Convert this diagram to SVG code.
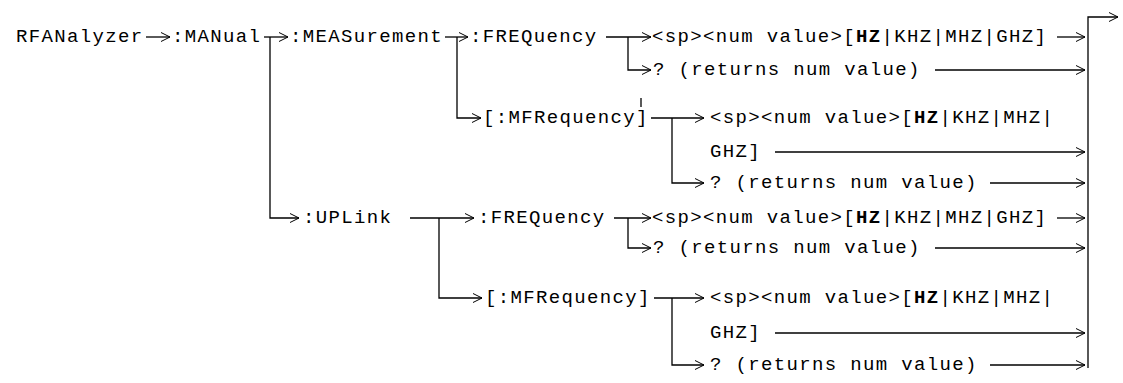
<svg xmlns="http://www.w3.org/2000/svg" width="1123" height="383" viewBox="0 0 1123 383">
<defs>
<marker id="ah" markerWidth="12" markerHeight="12" refX="10" refY="6" orient="auto" markerUnits="userSpaceOnUse">
<path d="M1,1.5 L10,6 L1,10.5" fill="none" stroke="#000" stroke-width="1"/>
</marker>
</defs>
<style>
text{font-family:"Liberation Mono","Courier New",monospace;font-size:19px;letter-spacing:1.35px;fill:#000}
.b{font-weight:bold}
.c line,.c polyline{stroke:#000;stroke-width:1.3;fill:none}
.a{marker-end:url(#ah)}
</style>
<rect width="1123" height="383" fill="#fff"/>
<g id="n-rfa"><text x="16" y="42">RFANalyzer</text></g>
<g id="n-manual"><text x="172" y="42">:MANual</text></g>
<g id="n-meas"><text x="290" y="42">:MEASurement</text></g>
<g id="n-freq1"><text x="470" y="42">:FREQuency</text></g>
<g id="n-val1"><text x="652" y="42">&lt;sp&gt;&lt;num value&gt;[<tspan class="b">HZ</tspan>|KHZ|MHZ|GHZ]</text></g>
<g id="n-q1"><text x="653" y="75">? (returns num value)</text></g>
<g id="n-mfreq1"><text x="483" y="123">[:MFRequency]</text></g>
<g id="n-val2"><text x="710" y="123">&lt;sp&gt;&lt;num value&gt;[<tspan class="b">HZ</tspan>|KHZ|MHZ|</text><text x="710" y="157">GHZ]</text></g>
<g id="n-q2"><text x="710" y="188">? (returns num value)</text></g>
<g id="n-uplink"><text x="303" y="223">:UPLink</text></g>
<g id="n-freq2"><text x="478" y="223">:FREQuency</text></g>
<g id="n-val3"><text x="652" y="223">&lt;sp&gt;&lt;num value&gt;[<tspan class="b">HZ</tspan>|KHZ|MHZ|GHZ]</text></g>
<g id="n-q3"><text x="653" y="253">? (returns num value)</text></g>
<g id="n-mfreq2"><text x="485" y="303">[:MFRequency]</text></g>
<g id="n-val4"><text x="710" y="303">&lt;sp&gt;&lt;num value&gt;[<tspan class="b">HZ</tspan>|KHZ|MHZ|</text><text x="710" y="338">GHZ]</text></g>
<g id="n-q4"><text x="710" y="370">? (returns num value)</text></g>
<g id="connectors" class="c">
<line class="a" x1="146" y1="37" x2="170" y2="37"/>
<line class="a" x1="264" y1="37" x2="288" y2="37"/>
<polyline class="a" points="270,37 270,218 299,218"/>
<line class="a" x1="445" y1="37" x2="468" y2="37"/>
<polyline class="a" points="457,37 457,118 481,118"/>
<line class="a" x1="606" y1="37" x2="651" y2="37"/>
<polyline class="a" points="628,37 628,70 651,70"/>
<line class="a" x1="1057" y1="37" x2="1085" y2="37"/>
<line class="a" x1="935" y1="70" x2="1085" y2="70"/>
<line x1="641" y1="98" x2="641" y2="107"/>
<line class="a" x1="651" y1="118" x2="704" y2="118"/>
<polyline class="a" points="672,118 672,183 704,183"/>
<line class="a" x1="775" y1="152" x2="1085" y2="152"/>
<line class="a" x1="990" y1="183" x2="1085" y2="183"/>
<line class="a" x1="410" y1="218" x2="474" y2="218"/>
<polyline class="a" points="439,218 439,298 482,298"/>
<line class="a" x1="614" y1="218" x2="651" y2="218"/>
<polyline class="a" points="628,218 628,248 651,248"/>
<line class="a" x1="1057" y1="218" x2="1085" y2="218"/>
<line class="a" x1="935" y1="248" x2="1085" y2="248"/>
<line class="a" x1="654" y1="298" x2="704" y2="298"/>
<polyline class="a" points="672,298 672,365 704,365"/>
<line class="a" x1="775" y1="333" x2="1085" y2="333"/>
<line class="a" x1="990" y1="365" x2="1085" y2="365"/>
<polyline class="a" points="1088,368 1088,17 1118,17"/>
</g>
</svg>
